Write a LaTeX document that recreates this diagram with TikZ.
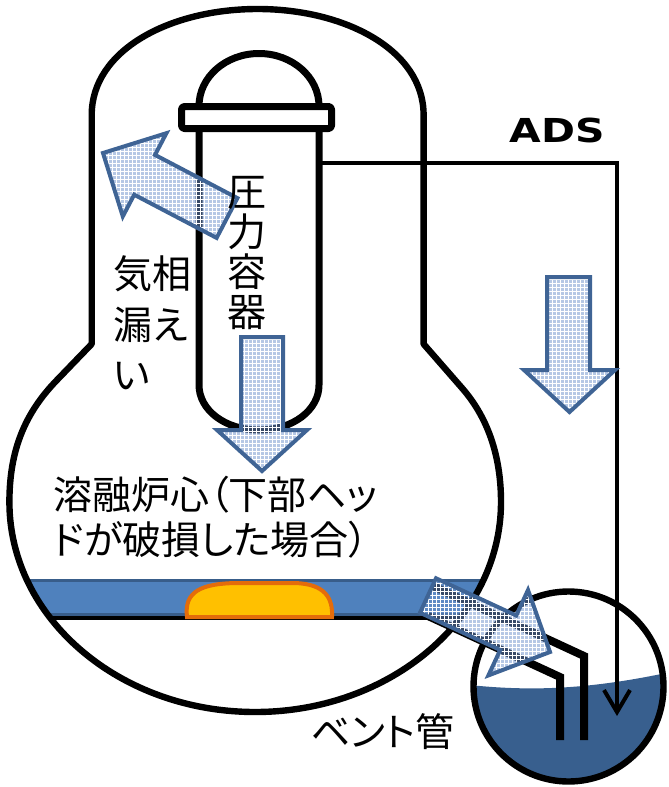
\documentclass[tikz,border=0pt]{standalone}
\usepackage{fontspec}
\usepackage{graphicx}
\usetikzlibrary{patterns.meta,arrows.meta}
\newfontfamily\jpfont[RawFeature=+palt]{Noto Sans CJK JP}
\newfontfamily\adsfont{DejaVu Sans}
\definecolor{arrowline}{HTML}{3F6495}
\definecolor{arrowblue}{HTML}{6F93CC}
\definecolor{bandblue}{HTML}{4F81BD}
\definecolor{bandedge}{HTML}{385D8A}
\definecolor{water}{HTML}{385F8E}
\definecolor{corefill}{HTML}{FFC000}
\definecolor{coreedge}{HTML}{E46C0A}
\tikzset{
  wall/.style={draw=black, line width=3.2pt, line join=round},
  vessel/.style={draw=black, line width=3.5pt, line join=round},
  flow/.style={draw=arrowline, line width=2pt, line join=miter,
    preaction={fill=arrowblue, fill opacity=0.5},
    pattern={Hatch[angle=0,distance=2pt,line width=0.35pt]}, pattern color=white},
  jp/.style={font=\jpfont\fontsize{19.5}{20}\selectfont, inner sep=0pt, text=black},
  drywell/.style={insert path={(91.7,344) -- (91.7,115)
    .. controls (91.7,50) and (170,9) .. (257.6,9)
    .. controls (345,9) and (423.6,50) .. (423.6,115)
    -- (423.6,344) -- (462,388)
    .. controls (490,420) and (501,460) .. (501,502)
    .. controls (501,618) and (391,712) .. (255.2,712)
    .. controls (119.4,712) and (9.4,618) .. (9.4,502)
    .. controls (9.4,450) and (25,413) .. (57,380) -- cycle}},
}
\begin{document}
\begin{tikzpicture}[x=0.5pt,y=-0.5pt]
\useasboundingbox (0,0) rectangle (669,787);
\fill[white] (0,0) rectangle (669,787);

% containment vessel: white body, water layer on the floor, molten core
\fill[white, drywell];
\begin{scope}
  \clip[drywell];
  \fill[bandblue, draw=bandedge, line width=1.5pt] (-10,580) rectangle (520,614);
  \draw[black, line width=2.3pt] (-10,618) -- (520,618);
\end{scope}
\path[fill=corefill, draw=coreedge, line width=2pt]
  (187,617) .. controls (184,592) and (200,583) .. (240,583) -- (295,583)
  .. controls (325,584) and (333,598) .. (332,617) -- cycle;
\path[wall, drywell];

% reactor pressure vessel
\path[vessel, fill=white] (199,106) .. controls (199,77) and (225.9,53.5) .. (259,53.5)
  .. controls (292.1,53.5) and (319,77) .. (319,106);
\path[vessel, fill=white] (199,128) -- (199,385) .. controls (199,410) and (225,430) .. (259,430)
  .. controls (293,430) and (319,410) .. (319,385) -- (319,128);
\path[vessel, fill=white, rounded corners=1.5pt] (181.5,106.5) rectangle (331.5,128.5);

% suppression pool
\coordinate (pool) at (568.5,686.5);
\fill[white] (pool) circle[radius=95];
\begin{scope}
  \clip (pool) circle[radius=95];
  \fill[water] (460,684) .. controls (530,692) and (590,690) .. (680,670)
    -- (680,800) -- (460,800) -- cycle;
\end{scope}
\draw[black, line width=3.2pt] (pool) circle[radius=95];

% vent pipe
\draw[black, line width=4pt, line join=miter] (432,585.6) -- (584,656) -- (584,740);
\draw[black, line width=4pt, line join=miter] (428,616) -- (560,677) -- (560,740);

% ADS line from the pressure vessel into the pool
\coordinate (adsstart) at (319,163);
\coordinate (adscorner) at (617,163);
\coordinate (adsend) at (617,716);
\draw[black, line width=2pt, -{Straight Barb[length=11pt,width=13pt]}]
  (adsstart) -- (adscorner) -- (adsend);

% flow arrows
\path[flow] (237.4,198.1) -- (155.0,154.9) -- (166.4,133.2) -- (103,153)
  -- (122.8,216.4) -- (134.2,194.7) -- (216.6,237.9) -- cycle;
\path[flow] (241,337) -- (283,337) -- (283,430) -- (307,430) -- (262,471)
  -- (217,430) -- (241,430) -- cycle;
\path[flow] (547,277) -- (590,277) -- (590,370) -- (615,370) -- (569.5,412)
  -- (524,370) -- (547,370) -- cycle;
\path[flow] (436.0,578.3) -- (516.2,615.5) -- (528.0,590.0) -- (550,652)
  -- (488.4,675.4) -- (500.2,650.0) -- (420.0,612.7) -- cycle;

% labels
\node[anchor=base west, inner sep=0pt, font=\adsfont\bfseries\fontsize{16.5}{17}\selectfont]
  (ads) at (509,142) {\scalebox{1.24}[1]{ADS}};
\node[jp, anchor=base] (rpv1) at (247,206) {圧};
\node[jp, anchor=base] (rpv2) at (247,246) {力};
\node[jp, anchor=base] (rpv3) at (247,286) {容};
\node[jp, anchor=base] (rpv4) at (247,326) {器};
\node[jp, anchor=base west] (leak1) at (113,288.5) {気相};
\node[jp, anchor=base west] (leak2) at (113,339) {漏え};
\node[jp, anchor=base west] (leak3) at (113,389) {い};
\node[jp, anchor=base west] (core1) at (53,509.5) {溶融炉心（下部ヘッ};
\node[jp, anchor=base west] (core2) at (53,554.5) {ドが破損した場合）};
\node[jp, anchor=base west] (vent) at (311,746) {ベント管};
\end{tikzpicture}
\end{document}
